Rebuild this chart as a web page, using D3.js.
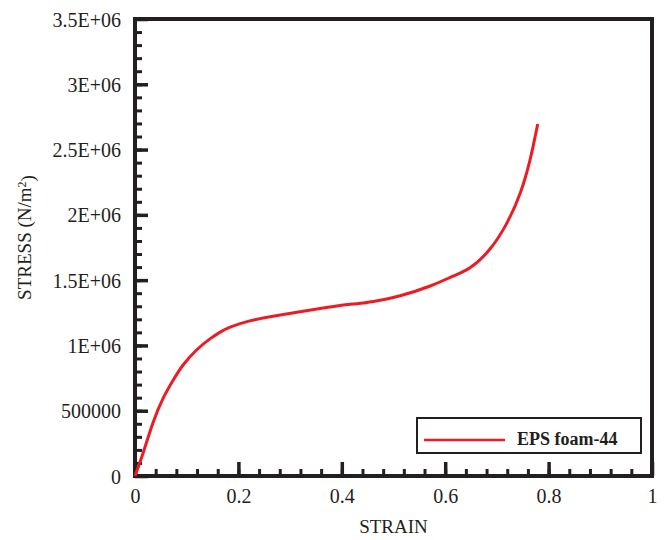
<!DOCTYPE html>
<html>
<head>
<meta charset="utf-8">
<script src="https://cdn.jsdelivr.net/npm/d3@7"></script>
<style>
  body { margin: 0; background: #fff; }
  text { font-family: "Liberation Serif", "Times New Roman", serif; fill: #231f20; }
</style>
</head>
<body>
<div id="chart"></div>
<script>
// data
let strain = [0, 0.016, 0.035, 0.055, 0.074, 0.093, 0.119, 0.145, 0.164, 0.184, 0.222, 0.27, 0.319, 0.37, 0.416, 0.442, 0.474, 0.513, 0.571, 0.61, 0.648, 0.687, 0.719, 0.745, 0.764, 0.774, 0.779];
let stress = [0, 180000, 410000, 600000, 735000, 850000, 965000, 1050000, 1100000, 1140000, 1188000, 1226000, 1258000, 1290000, 1315000, 1325000, 1346000, 1380000, 1455000, 1522000, 1595000, 1740000, 1935000, 2165000, 2420000, 2600000, 2696000];
let xTicks = [0, 0.2, 0.4, 0.6, 0.8, 1];
let xTickLabels = ["0", "0.2", "0.4", "0.6", "0.8", "1"];
let yTicks = [0, 500000, 1000000, 1500000, 2000000, 2500000, 3000000, 3500000];
let yTickLabels = ["0", "500000", "1E+06", "1.5E+06", "2E+06", "2.5E+06", "3E+06", "3.5E+06"];
let seriesName = "EPS foam-44";

let width = 664, height = 540;
let margin = {left: 135, right: 12, top: 19, bottom: 64};
let w = width - margin.left - margin.right;
let h = height - margin.top - margin.bottom;

let svg = d3.select("#chart")
    .append("svg")
    .attr("width", width)
    .attr("height", height)
    .append("g")
    .attr("transform", `translate(${margin.left}, ${margin.top})`);

let x = d3.scaleLinear().domain([0, 1]).range([0, w]);
let y = d3.scaleLinear().domain([0, 3500000]).range([h, 0]);

// minor ticks
let xMinor = d3.range(0, 1.0001, 0.04);
let yMinor = d3.range(0, 3500001, 100000);

svg.append("g")
    .attr("transform", `translate(0, ${h})`)
    .call(d3.axisBottom(x).tickValues(xMinor).tickSize(-7).tickFormat(""))
    .call(g => g.select(".domain").remove())
    .selectAll("line").attr("stroke", "#231f20").attr("stroke-width", 3);

svg.append("g")
    .call(d3.axisLeft(y).tickValues(yMinor).tickSize(-7).tickFormat(""))
    .call(g => g.select(".domain").remove())
    .selectAll("line").attr("stroke", "#231f20").attr("stroke-width", 3);

// major ticks with labels
let xAxis = svg.append("g")
    .attr("transform", `translate(0, ${h})`)
    .call(d3.axisBottom(x).tickValues(xTicks).tickSize(-14).tickPadding(13)
        .tickFormat((d, i) => xTickLabels[i]));
xAxis.select(".domain").remove();
xAxis.selectAll("line").attr("stroke", "#231f20").attr("stroke-width", 3.5);
xAxis.selectAll("text").style("font-size", "20px").attr("fill", "#231f20");

let yAxis = svg.append("g")
    .call(d3.axisLeft(y).tickValues(yTicks).tickSize(-13).tickPadding(14)
        .tickFormat((d, i) => yTickLabels[i]));
yAxis.select(".domain").remove();
yAxis.selectAll("line").attr("stroke", "#231f20").attr("stroke-width", 3.5);
yAxis.selectAll("text").style("font-size", "20px").attr("fill", "#231f20").attr("dy", "0.35em");

// frame
svg.append("rect")
    .attr("x", 0).attr("y", 0)
    .attr("width", w).attr("height", h)
    .attr("fill", "none")
    .attr("stroke", "#231f20")
    .attr("stroke-width", 4);

// curve
let data = strain.map((s, i) => ({x: s, y: stress[i]}));
let line = d3.line()
    .x(d => x(d.x))
    .y(d => y(d.y))
    .curve(d3.curveNatural);

svg.append("path")
    .datum(data)
    .attr("d", line)
    .attr("fill", "none")
    .attr("stroke", "#ec1c24")
    .attr("stroke-width", 3);

// legend
let legend = svg.append("g")
    .attr("transform", `translate(${417 - margin.left}, ${418 - margin.top})`);
legend.append("rect")
    .attr("width", 224).attr("height", 35)
    .attr("fill", "#fff")
    .attr("stroke", "#231f20")
    .attr("stroke-width", 2);
legend.append("line")
    .attr("x1", 7).attr("x2", 88)
    .attr("y1", 22).attr("y2", 22)
    .attr("stroke", "#ec1c24")
    .attr("stroke-width", 2.5);
legend.append("text")
    .attr("x", 100).attr("y", 27)
    .style("font-size", "18px")
    .style("font-weight", "bold")
    .text(seriesName);

// axis titles
svg.append("text")
    .attr("transform", `translate(${w / 2}, ${h + 57})`)
    .style("text-anchor", "middle")
    .style("font-size", "19px")
    .text("STRAIN");

let yt = svg.append("text")
    .attr("transform", `translate(-104, ${h / 2 - 10}) rotate(-90)`)
    .style("text-anchor", "middle")
    .style("font-size", "19px");
yt.append("tspan").text("STRESS (N/m");
yt.append("tspan").attr("dy", "-0.45em").style("font-size", "12px").text("2");
yt.append("tspan").attr("dy", "0.45em").text(")");
</script>
</body>
</html>
